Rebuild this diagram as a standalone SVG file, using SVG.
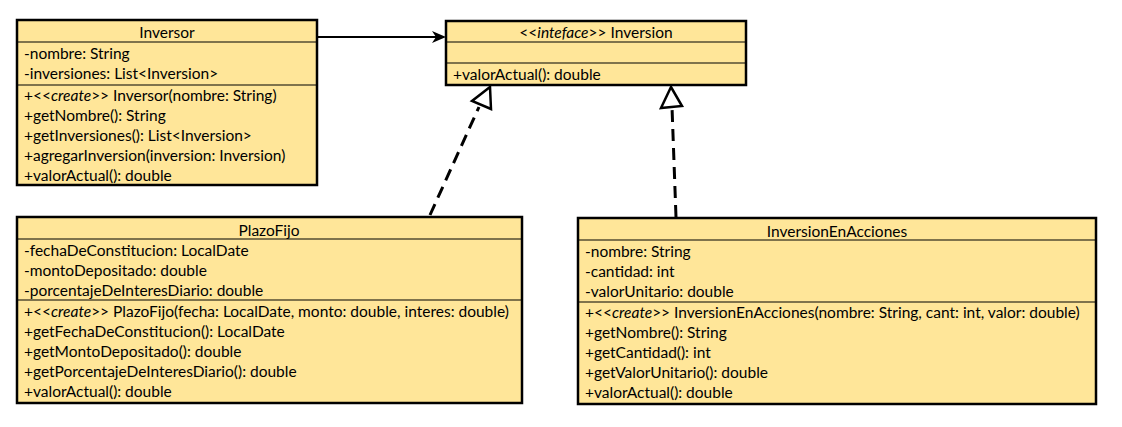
<svg xmlns="http://www.w3.org/2000/svg" width="1122" height="427" viewBox="0 0 1122 427">
  <style>
    .box { fill: #FFE699; stroke: #000; stroke-width: 2.5; }
    .sep { stroke: #000; stroke-width: 1.2; }
    text { font-family: Lato, "Open Sans", "Liberation Sans", sans-serif; font-size: 15.5px; fill: #000; }
    .title { text-anchor: middle; }
    .it { font-style: italic; }
    .dash { fill: none; stroke: #000; stroke-width: 3; stroke-dasharray: 12 7; }
    .tri { fill: #fff; stroke: #000; stroke-width: 2.5; stroke-linejoin: miter; }
  </style>

  <!-- connectors -->
  <g id="connectors">
    <!-- association Inversor -> Inversion -->
    <line x1="318" y1="37" x2="438" y2="37" stroke="#000" stroke-width="2"/>
    <path d="M446,37 L432,31 L436,37 L432,43 Z" fill="#000"/>
    <!-- realization PlazoFijo -> Inversion -->
    <line class="dash" x1="430" y1="215" x2="479" y2="107"/>
    <polygon class="tri" points="490,87 472,101 491,109"/>
    <!-- realization InversionEnAcciones -> Inversion -->
    <line class="dash" x1="676" y1="217" x2="672" y2="107"/>
    <polygon class="tri" points="671,87 661,108 682,106"/>
  </g>

  <!-- Inversor -->
  <g id="inversor">
    <rect class="box" x="17" y="20" width="300" height="165"/>
    <line class="sep" x1="17" y1="42" x2="317" y2="42"/>
    <line class="sep" x1="17" y1="85" x2="317" y2="85"/>
    <text class="title" x="167" y="38">Inversor</text>
    <text x="24" y="59">-nombre: String</text>
    <text x="24" y="79">-inversiones: List&lt;Inversion&gt;</text>
    <text x="24" y="101">+&lt;&lt;<tspan class="it">create</tspan>&gt;&gt; Inversor(nombre: String)</text>
    <text x="24" y="121">+getNombre(): String</text>
    <text x="24" y="141">+getInversiones(): List&lt;Inversion&gt;</text>
    <text x="24" y="161">+agregarInversion(inversion: Inversion)</text>
    <text x="24" y="181">+valorActual(): double</text>
  </g>

  <!-- Inversion (interface) -->
  <g id="inversion">
    <rect class="box" x="446" y="21" width="300" height="64"/>
    <line class="sep" x1="446" y1="42" x2="746" y2="42"/>
    <line class="sep" x1="446" y1="63" x2="746" y2="63"/>
    <text class="title" x="596" y="38">&lt;&lt;<tspan class="it">inteface</tspan>&gt;&gt; Inversion</text>
    <text x="453" y="80">+valorActual(): double</text>
  </g>

  <!-- PlazoFijo -->
  <g id="plazofijo">
    <rect class="box" x="17" y="217" width="505" height="186"/>
    <line class="sep" x1="17" y1="239" x2="522" y2="239"/>
    <line class="sep" x1="17" y1="300" x2="522" y2="300"/>
    <text class="title" x="269" y="236">PlazoFijo</text>
    <text x="24" y="256">-fechaDeConstitucion: LocalDate</text>
    <text x="24" y="276">-montoDepositado: double</text>
    <text x="24" y="296">-porcentajeDeInteresDiario: double</text>
    <text x="24" y="317">+&lt;&lt;<tspan class="it">create</tspan>&gt;&gt; PlazoFijo(fecha: LocalDate, monto: double, interes: double)</text>
    <text x="24" y="337">+getFechaDeConstitucion(): LocalDate</text>
    <text x="24" y="357">+getMontoDepositado(): double</text>
    <text x="24" y="377">+getPorcentajeDeInteresDiario(): double</text>
    <text x="24" y="397">+valorActual(): double</text>
  </g>

  <!-- InversionEnAcciones -->
  <g id="inversionEnAcciones">
    <rect class="box" x="578" y="218" width="518" height="186"/>
    <line class="sep" x1="578" y1="240" x2="1096" y2="240"/>
    <line class="sep" x1="578" y1="302" x2="1096" y2="302"/>
    <text class="title" x="837" y="237">InversionEnAcciones</text>
    <text x="585" y="257">-nombre: String</text>
    <text x="585" y="277">-cantidad: int</text>
    <text x="585" y="297">-valorUnitario: double</text>
    <text x="585" y="318">+&lt;&lt;<tspan class="it">create</tspan>&gt;&gt; InversionEnAcciones(nombre: String, cant: int, valor: double)</text>
    <text x="585" y="338">+getNombre(): String</text>
    <text x="585" y="358">+getCantidad(): int</text>
    <text x="585" y="378">+getValorUnitario(): double</text>
    <text x="585" y="398">+valorActual(): double</text>
  </g>
</svg>
